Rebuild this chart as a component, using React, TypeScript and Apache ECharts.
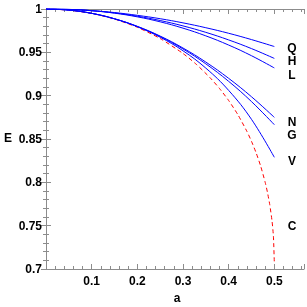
import React, { useEffect, useRef } from "react";
import * as echarts from "echarts";

const aGrid = [0, 0.05, 0.1, 0.15, 0.2, 0.25, 0.3, 0.35, 0.4, 0.45, 0.5];
const qE = [1, 0.9995, 0.9981, 0.9959, 0.9927, 0.9888, 0.984, 0.9784, 0.972, 0.9647, 0.9567];
const hE = [1, 0.99955, 0.99806, 0.99545, 0.99168, 0.9867, 0.9805, 0.97305, 0.96432, 0.95431, 0.943];
const lE = [1, 0.99957, 0.99803, 0.99519, 0.99094, 0.9852, 0.9779, 0.969, 0.9584, 0.9461, 0.932];
const nE = [1, 0.99875, 0.995, 0.98875, 0.98, 0.96875, 0.955, 0.93875, 0.92, 0.89875, 0.875];
const gE = [1, 0.99874, 0.99499, 0.98868, 0.97978, 0.96822, 0.9539, 0.93671, 0.91652, 0.89317, 0.8665];
const vE = [1, 0.99875, 0.99498, 0.98863, 0.97954, 0.96744, 0.9518, 0.93179, 0.9061, 0.87269, 0.8289];
const cA = [0, 0.05, 0.1, 0.15, 0.2, 0.25, 0.3, 0.33, 0.36, 0.38, 0.4, 0.42, 0.44, 0.45, 0.46, 0.47, 0.48, 0.485, 0.49, 0.495, 0.498, 0.5];
const cE = [1, 0.99875, 0.99494, 0.98842, 0.97891, 0.96593, 0.94868, 0.93575, 0.92032, 0.90827, 0.89443, 0.87824, 0.85877, 0.84731, 0.83424, 0.8189, 0.8, 0.78838, 0.77426, 0.75534, 0.73802, 0.70711];

const curveLabels = ["Q", "H", "L", "N", "G", "V", "C"];
const labelY = [47.5, 61, 75, 122, 135, 161, 226];

const AXIS_COLOR = "#8c8c8c";
const FONT = "'Liberation Sans', Arial, sans-serif";

export default function App() {
  const ref = useRef<HTMLDivElement>(null);
  useEffect(() => {
    if (!ref.current) return;
    const chart = echarts.init(ref.current, null, { renderer: "svg" });
    const blue = (name: string, vals: number[]) => ({
      name,
      type: "line",
      data: aGrid.map((a, i) => [a, vals[i]]),
      smooth: 0.4,
      showSymbol: false,
      lineStyle: { color: "#0000ff", width: 1 },
      z: 3,
    });
    const tickCommon = {
      axisLine: { show: true, lineStyle: { color: AXIS_COLOR, width: 1 } },
      axisTick: { show: true, inside: true, length: 5, lineStyle: { color: AXIS_COLOR } },
      minorTick: { show: true, splitNumber: 5, length: 3, lineStyle: { color: AXIS_COLOR } },
      splitLine: { show: false },
      minorSplitLine: { show: false },
    };
    const fmtX = (v: number) => {
      const r = Math.round(v * 10) / 10;
      if (Math.abs(v - r) > 1e-6 || r < 0.05 || r > 0.55) return "";
      return String(r);
    };
    const fmtY = (v: number) => String(Number(v.toFixed(2)));
    chart.setOption({
      animation: false,
      grid: { left: 46, right: 1, top: 9, bottom: 38 },
      xAxis: [
        {
          type: "value", min: 0, max: 0.565, interval: 0.1, ...tickCommon,
          axisLabel: { formatter: fmtX, color: "#000", fontWeight: "bold", fontSize: 12, fontFamily: FONT, margin: 6 },
        },
        {
          type: "value", position: "top", min: 0, max: 0.565, interval: 0.1, ...tickCommon,
          axisLabel: { show: false },
        },
      ],
      yAxis: [
        {
          type: "value", min: 0.7, max: 1, interval: 0.05, ...tickCommon,
          axisLabel: { formatter: fmtY, color: "#000", fontWeight: "bold", fontSize: 12, fontFamily: FONT, margin: 4 },
        },
        {
          type: "value", position: "right", min: 0.7, max: 1, interval: 0.05, ...tickCommon,
          axisLabel: { show: false },
        },
      ],
      series: [
        blue("Q", qE),
        blue("H", hE),
        blue("L", lE),
        blue("N", nE),
        blue("G", gE),
        blue("V", vE),
        {
          name: "C",
          type: "line",
          data: cA.map((a, i) => [a, cE[i]]),
          smooth: 0.2,
          showSymbol: false,
          lineStyle: { color: "#ff0000", width: 1, type: [4, 3] },
          z: 2,
        },
      ],
      graphic: [
        ...curveLabels.map((t, i) => ({
          type: "text",
          x: 292,
          y: labelY[i],
          style: {
            text: t, fill: "#000", font: `bold 12px ${FONT}`,
            align: "center", verticalAlign: "middle", lineHeight: 10,
          },
        })),
        { type: "text", x: 8, y: 138, style: { text: "E", fill: "#000", font: `bold 12px ${FONT}`, align: "center", verticalAlign: "middle" } },
        { type: "text", x: 177, y: 298, style: { text: "a", fill: "#000", font: `bold 12px ${FONT}`, align: "center", verticalAlign: "middle" } },
      ],
    });
    return () => chart.dispose();
  }, []);
  return <div ref={ref} style={{ position: "fixed", left: 0, top: 0, width: 307, height: 307 }} />;
}
